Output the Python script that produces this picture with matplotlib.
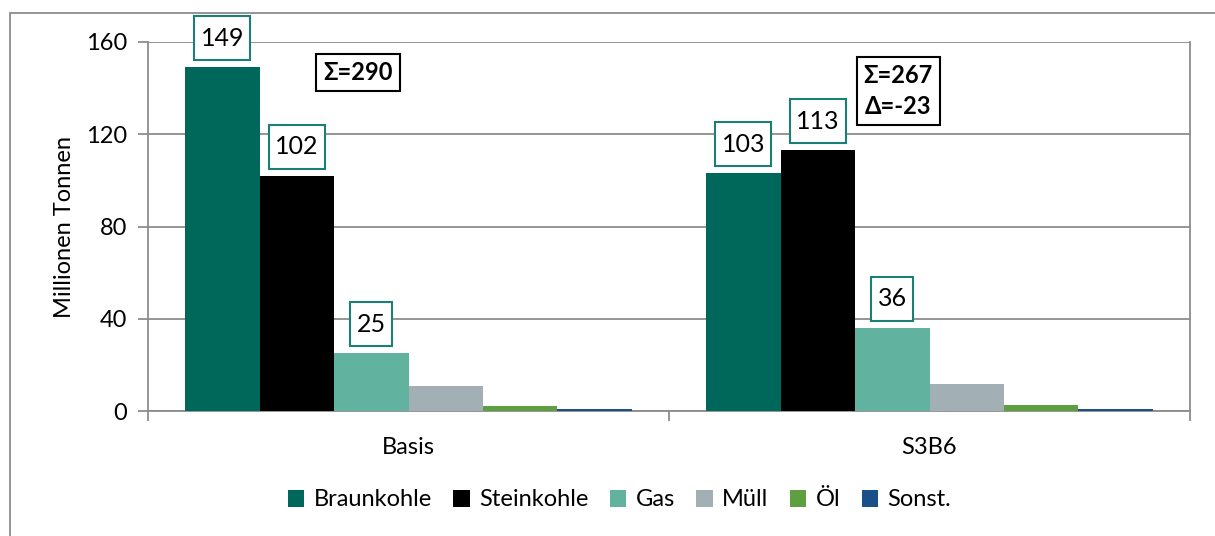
import numpy as np
import matplotlib.pyplot as plt
from matplotlib.patches import Rectangle
from matplotlib.path import Path

plt.rcParams['font.family'] = ['Lato', 'DejaVu Sans']

categories = ['Basis', 'S3B6']
series = ['Braunkohle', 'Steinkohle', 'Gas', 'Müll', 'Öl', 'Sonst.']
values = {
    'Braunkohle': [149, 103],
    'Steinkohle': [102, 113],
    'Gas': [25, 36],
    'Müll': [10.8, 11.6],
    'Öl': [2.3, 2.6],
    'Sonst.': [0.9, 0.9],
}
labeled = ['Braunkohle', 'Steinkohle', 'Gas']
colors = ['#00675B', '#000000', '#62B2A0', '#A2AFB5', '#5E9F41', '#1B4F8A']
sum_texts = ['Σ=290', 'Σ=267\nΔ=-23']
sum_pos = [(-0.097, 146.6), (0.94, 138.8)]


def label_box(x0, y0, width, height, mutation_size):
    # rectangle with more vertical than horizontal padding
    px = 0.25 * mutation_size
    py = 0.42 * mutation_size
    x1, y1 = x0 - px, y0 - py
    x2, y2 = x0 + width + px, y0 + height + py
    return Path([(x1, y1), (x2, y1), (x2, y2), (x1, y2), (x1, y1)], closed=True)


fig = plt.figure(figsize=(12.15, 5.36), dpi=100)
ax = fig.add_axes([148 / 1215, 1 - 411 / 536, (1190 - 148) / 1215, (411 - 42) / 536])

# outer chart border
fig.patches.append(Rectangle((10 / 1215, -0.1), 1.2, 1 - 13 / 536 + 0.1,
                             transform=fig.transFigure, fill=False,
                             edgecolor='#8c8c8c', linewidth=1.3))

x = np.arange(len(categories))
w = 1 / 7
for i, name in enumerate(series):
    pos = x + (i - 2.5) * w
    ax.bar(pos, values[name], width=w, color=colors[i], label=name, zorder=3,
           edgecolor='none')
    if name in labeled:
        for xp, v in zip(pos, values[name]):
            ax.annotate(f'{v:.0f}', (xp, v), xytext=(0, 21), textcoords='offset points',
                        ha='center', va='center', fontsize=18, zorder=5,
                        bbox=dict(boxstyle=label_box, fc='white',
                                  ec='#1A7F74', lw=1.5))

for txt, (sx, sy) in zip(sum_texts, sum_pos):
    ax.text(sx, sy, txt, ha='center', va='center', fontsize=17, fontweight='bold',
            linespacing=1.45, zorder=5,
            bbox=dict(boxstyle='square,pad=0.3', fc='white', ec='black', lw=1.5))

ax.set_xlim(-0.5, 1.5)
ax.set_ylim(0, 160)
ax.set_yticks([0, 40, 80, 120, 160])
ax.set_xticks([-0.5, 0.5, 1.5])
ax.set_xticklabels([])
ax.set_xticks(x, minor=True)
ax.set_xticklabels(categories, minor=True)
ax.tick_params(axis='x', which='minor', length=0, pad=19, labelsize=17)
ax.tick_params(axis='x', which='major', length=7, color='#8c8c8c', width=1.3)
ax.tick_params(axis='y', length=7, color='#8c8c8c', width=1.3, labelsize=17, pad=8)
ax.grid(axis='y', color='#8c8c8c', linewidth=1.3, zorder=0)
for s in ax.spines.values():
    s.set_color('#8c8c8c')
    s.set_linewidth(1.3)
ax.spines['top'].set_visible(False)
ax.set_ylabel('Millionen Tonnen', fontsize=17, labelpad=8)

handles, labels = ax.get_legend_handles_labels()
fig.legend(handles, labels, loc='center', bbox_to_anchor=(0.51, 1 - 500 / 536), ncol=6,
           frameon=False, fontsize=17, handlelength=0.7, handleheight=0.7,
           handletextpad=0.4, columnspacing=0.9)

fig.savefig('out.png', dpi=100)
